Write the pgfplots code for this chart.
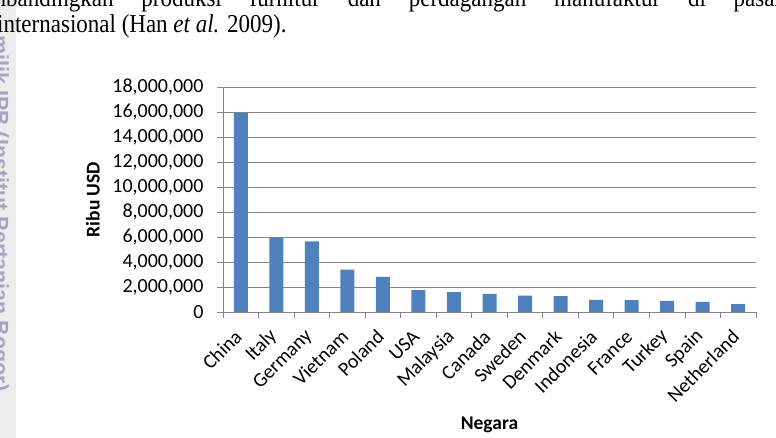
\documentclass[border=0pt]{standalone}
\usepackage{pgfplots}
\pgfplotsset{compat=1.18}
\usepackage{fontspec}
\setmainfont{Liberation Serif}
\newfontfamily\chartfont{Carlito}
\newfontfamily\markfont{Liberation Sans}
\definecolor{barblue}{HTML}{4F81BD}
\definecolor{gridgray}{HTML}{868686}
\definecolor{wmark}{RGB}{165,165,195}
\definecolor{strip}{HTML}{EDEDED}

\begin{document}
\begin{tikzpicture}[x=1pt,y=1pt]
\useasboundingbox (0,0) rectangle (776,438);
\clip (0,0) rectangle (776,438);
% left strip with watermark
\fill[strip] (0,0) rectangle (16,438);
\node[rotate=-90, anchor=west, inner sep=0pt, text=wmark,
      font=\markfont\bfseries\fontsize{21.5}{21.5}\selectfont]
  at (-1,403) {milik IPB (Institut Pertanian Bogor)};
% running text above the chart
\node[anchor=base west, inner sep=0pt, yscale=1.12, font=\fontsize{23}{26}\selectfont]
  at (-40,431) {\hbox to 822pt{membandingkan\hfill produksi\hfill furnitur\hfill dan\hfill perdagangan\hfill manufaktur\hfill di\hfill pasar}};
\node[anchor=base west, inner sep=0pt, yscale=1.12, font=\fontsize{23}{26}\selectfont]
  at (-3,405) {internasional (Han \textit{et al.} 2009).};

\begin{axis}[
  at={(223pt,126pt)}, anchor=south west,
  scale only axis, width=533pt, height=225pt,
  xmin=-0.5, xmax=14.5, ymin=0, ymax=18000000,
  axis x line*=bottom, axis y line*=left,
  axis line style={gridgray},
  ymajorgrids, grid style={gridgray, line width=0.8pt},
  tick align=outside, major tick length=6pt, minor tick length=6pt,
  tick style={gridgray, line width=0.8pt},
  every major x tick/.append style={draw=none},
  xtick={0,...,14},
  minor xtick={-0.5,0.5,...,14.5},
  xticklabels={China,Italy,Germany,Vietnam,Poland,USA,Malaysia,Canada,Sweden,Denmark,Indonesia,France,Turkey,Spain,Netherland},
  ytick={0,2000000,...,18000000},
  scaled y ticks=false,
  yticklabel style={/pgf/number format/fixed, /pgf/number format/precision=0,
    /pgf/number format/1000 sep={,}, /pgf/number format/assume math mode=true},
  yticklabel style={font=\chartfont\fontsize{20}{20}\selectfont, xshift=-10pt},
  xticklabel shift=13pt,
  xticklabel style={font=\chartfont\fontsize{20}{20}\selectfont, rotate=45, anchor=east},
  xlabel={Negara}, ylabel={Ribu USD},
  every axis x label/.style={at={(axis description cs:0.5,-0.502)}, anchor=center,
    font=\chartfont\bfseries\fontsize{19.5}{19.5}\selectfont},
  every axis y label/.style={at={(axis description cs:-0.244,0.5)}, rotate=90, anchor=center,
    font=\chartfont\bfseries\fontsize{19.5}{19.5}\selectfont},
]
\addplot[ybar, bar width=14pt, fill=barblue, draw=none] coordinates {
  (0,15920000) (1,5970000) (2,5650000) (3,3380000) (4,2800000)
  (5,1750000) (6,1580000) (7,1450000) (8,1310000) (9,1260000)
  (10,970000) (11,940000) (12,880000) (13,800000) (14,620000)
};
\end{axis}
\end{tikzpicture}
\end{document}
